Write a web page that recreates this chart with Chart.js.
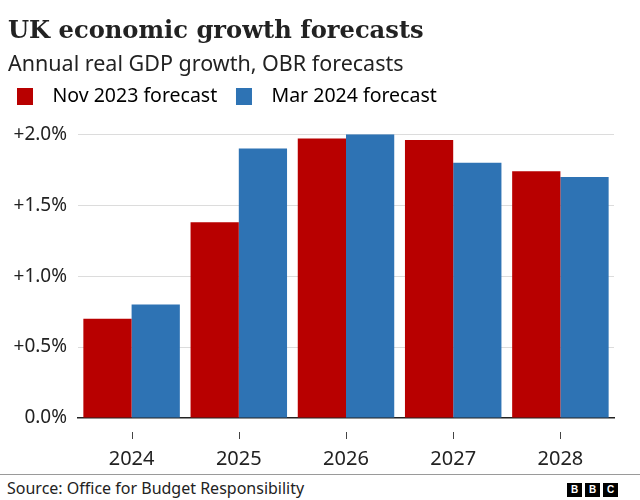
<!DOCTYPE html>
<html lang="en">
<head>
    <meta charset="UTF-8">
    <title>UK economic growth forecasts</title>
    <script src="https://cdn.jsdelivr.net/npm/chart.js@4.4.0/dist/chart.umd.min.js"></script>
    <style>
        body {
            margin: 0;
            background: #fff;
            font-family: 'Noto Sans', sans-serif;
            color: #222;
        }
        .frame {
            position: relative;
            width: 640px;
            height: 500px;
            overflow: hidden;
        }
        .chart-box {
            position: absolute;
            left: 0;
            top: 0;
            width: 640px;
            height: 500px;
        }
        .footer {
            position: absolute;
            left: 0;
            top: 474px;
            width: 640px;
            height: 26px;
            background: #fff;
            border-top: 1px solid #9a9a9a;
        }
        .source {
            position: absolute;
            left: 7px;
            top: 2px;
            font-size: 16px;
            color: #222;
            white-space: nowrap;
        }
        .logo {
            position: absolute;
            left: 567px;
            top: 8px;
            display: flex;
            gap: 3px;
        }
        .logo span {
            width: 15px;
            height: 14px;
            background: #000;
            color: #fff;
            font: bold 10px 'Liberation Sans', sans-serif;
            line-height: 14px;
            text-align: center;
        }
    </style>
</head>
<body>
<div class="frame">
    <div class="chart-box"><canvas id="growthChart"></canvas></div>
    <div class="footer">
        <div class="source">Source: Office for Budget Responsibility</div>
        <div class="logo"><span>B</span><span>B</span><span>C</span></div>
    </div>
</div>
<script>
    // data
    const years = ['2024', '2025', '2026', '2027', '2028'];
    const nov2023 = [0.7, 1.38, 1.97, 1.96, 1.74];
    const mar2024 = [0.8, 1.9, 2.0, 1.8, 1.7];
    const seriesNames = ['Nov 2023 forecast', 'Mar 2024 forecast'];
    const yTicks = [0, 0.5, 1.0, 1.5, 2.0];

    const red = '#b80000';
    const blue = '#2e73b4';
    const sans = "'Noto Sans', sans-serif";

    // short tick marks under the axis, detached from the baseline
    const xTickMarks = {
        id: 'xTickMarks',
        afterDraw(chart) {
            const x = chart.scales.x;
            const ctx = chart.ctx;
            const bottom = chart.chartArea.bottom;
            ctx.save();
            ctx.strokeStyle = '#444';
            ctx.lineWidth = 1;
            x.ticks.forEach((t, i) => {
                const px = Math.round(x.getPixelForTick(i)) + 0.5;
                ctx.beginPath();
                ctx.moveTo(px, bottom + 14);
                ctx.lineTo(px, bottom + 21);
                ctx.stroke();
            });
            ctx.restore();
        }
    };

    // extra room between the legend and the plot
    const legendGap = {
        id: 'legendGap',
        beforeInit(chart) {
            const fit = chart.legend.fit;
            chart.legend.fit = function () {
                fit.bind(chart.legend)();
                this.height += 18;
            };
        }
    };

    new Chart(document.getElementById('growthChart'), {
        type: 'bar',
        data: {
            labels: years,
            datasets: [
                { label: seriesNames[0], data: nov2023, backgroundColor: red },
                { label: seriesNames[1], data: mar2024, backgroundColor: blue }
            ]
        },
        options: {
            responsive: true,
            maintainAspectRatio: false,
            animation: false,
            categoryPercentage: 0.9,
            barPercentage: 1.0,
            layout: { padding: { left: 8, right: 26, top: 17, bottom: 0 } },
            plugins: {
                tooltip: { enabled: false },
                title: {
                    display: true,
                    text: 'UK economic growth forecasts',
                    align: 'start',
                    color: '#222',
                    font: { family: "'DejaVu Serif', serif", size: 24.2, weight: 'bold' },
                    padding: { top: 0, bottom: 6 }
                },
                subtitle: {
                    display: true,
                    text: 'Annual real GDP growth, OBR forecasts',
                    align: 'start',
                    color: '#222',
                    font: { family: sans, size: 21.5 },
                    padding: { top: 0, bottom: 0 }
                },
                legend: {
                    display: true,
                    align: 'start',
                    labels: {
                        color: '#222',
                        font: { family: sans, size: 19.5 },
                        boxWidth: 16,
                        boxHeight: 17,
                        padding: 9,
                        generateLabels(chart) {
                            return chart.data.datasets.map((ds, i) => ({
                                text: '\u2002' + ds.label + '\u2002',
                                fillStyle: ds.backgroundColor,
                                strokeStyle: ds.backgroundColor,
                                lineWidth: 0,
                                datasetIndex: i
                            }));
                        }
                    }
                }
            },
            scales: {
                x: {
                    grid: { display: false, drawTicks: false },
                    border: { display: true, color: '#222', width: 1.5 },
                    ticks: {
                        color: '#222',
                        font: { family: sans, size: 20 },
                        padding: 29
                    }
                },
                y: {
                    min: 0,
                    max: 2.0,
                    afterBuildTicks(scale) {
                        scale.ticks = yTicks.map(v => ({ value: v }));
                    },
                    afterFit(scale) {
                        scale.width = 70;
                    },
                    grid: {
                        drawTicks: false,
                        color: ctx => ctx.tick && ctx.tick.value === 0 ? 'rgba(0,0,0,0)' : '#dcdcdc',
                        lineWidth: 1
                    },
                    border: { display: false },
                    ticks: {
                        color: '#222',
                        font: { family: sans, size: 19 },
                        padding: 11,
                        callback: v => (v === 0 ? '' : '+') + v.toFixed(1) + '%'
                    }
                }
            }
        },
        plugins: [xTickMarks, legendGap]
    });
</script>
</body>
</html>
